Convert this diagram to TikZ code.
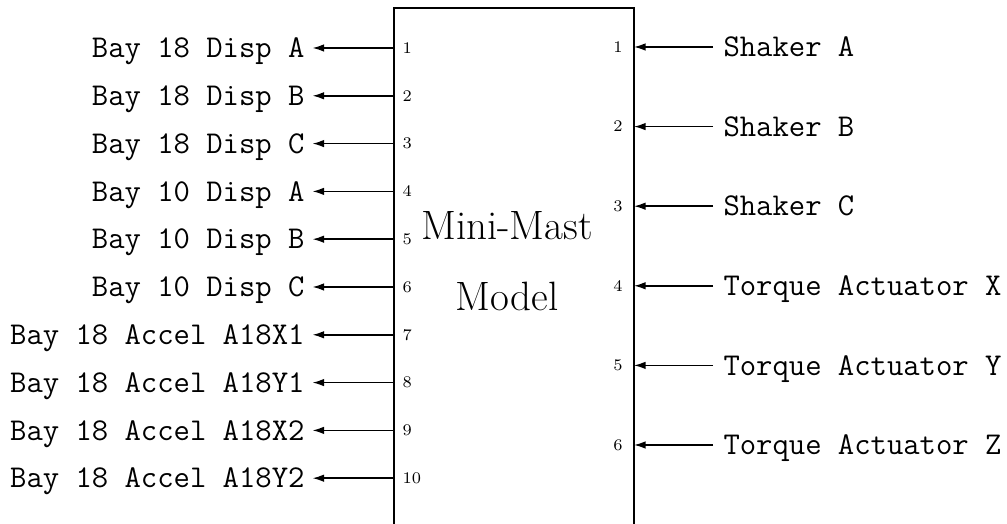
\documentclass[tikz,border=0pt]{standalone}
\usepackage{fontspec}
\usetikzlibrary{arrows.meta}
\begin{document}
\begin{tikzpicture}[x=0.4pt,y=-0.4pt,
  lbl/.style={font=\fontsize{12.7}{15}\selectfont\ttfamily, inner sep=0pt, text height=7.7pt, text depth=0pt},
  port/.style={font=\fontsize{6.5}{8}\selectfont, inner sep=0pt, text height=4.2pt, text depth=0pt},
  title/.style={font=\fontsize{16.4}{19}\selectfont, inner sep=0pt, anchor=base},
  conn/.style={line width=0.6pt, -{Latex[length=4.6pt,width=3pt]}},
  frame/.style={line width=0.8pt}]
\useasboundingbox (0,0) rectangle (1007,524);
\coordinate (BL) at (394,560);
\coordinate (TL) at (394,8);
\coordinate (TR) at (634,8);
\coordinate (BR) at (634,560);
\draw[frame] (BL) -- (TL) -- (TR) -- (BR);
\node[title] (t1) at (507,240) {Mini-Mast};
\node[title] (t2) at (507,311) {Model};
\foreach \i/\t [evaluate=\i as \y using 48+(\i-1)*47.8] in
 {1/Bay 18 Disp A, 2/Bay 18 Disp B, 3/Bay 18 Disp C, 4/Bay 10 Disp A, 5/Bay 10 Disp B,
  6/Bay 10 Disp C, 7/Bay 18 Accel A18X1, 8/Bay 18 Accel A18Y1, 9/Bay 18 Accel A18X2, 10/Bay 18 Accel A18Y2}{
  \coordinate (L\i) at (394,\y);
  \node[lbl, anchor=east] (la\i) at (305,\y) {\t};
  \node[port, anchor=west] (lp\i) at (402,\y) {\i};
  \draw[conn] (L\i) -- ([xshift=3pt]la\i.east);
}
\foreach \i/\t [evaluate=\i as \y using 47+(\i-1)*79.6] in
 {1/Shaker A, 2/Shaker B, 3/Shaker C, 4/Torque Actuator X, 5/Torque Actuator Y, 6/Torque Actuator Z}{
  \coordinate (R\i) at (634,\y);
  \node[lbl, anchor=west] (ra\i) at (723,\y) {\t};
  \node[port, anchor=east] (rp\i) at (623,\y) {\i};
  \draw[conn] ([xshift=-4pt]ra\i.west) -- (R\i);
}
\end{tikzpicture}
\end{document}
